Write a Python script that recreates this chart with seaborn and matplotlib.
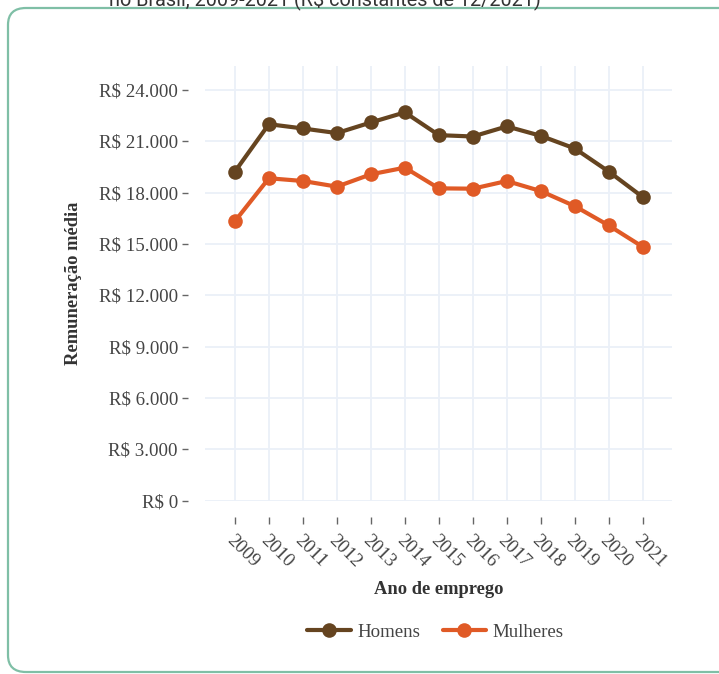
import matplotlib
matplotlib.use("Agg")
import matplotlib.pyplot as plt
from matplotlib.patches import FancyBboxPatch
from matplotlib.ticker import FuncFormatter
import pandas as pd
import seaborn as sns

# Remuneração média por sexo, 2009-2021 (R$ constantes de 12/2021)
anos = [2009, 2010, 2011, 2012, 2013, 2014, 2015, 2016, 2017, 2018, 2019, 2020, 2021]
homens = [19230, 22000, 21750, 21480, 22100, 22690, 21360, 21280, 21870, 21320, 20580, 19230, 17740]
mulheres = [16330, 18840, 18680, 18350, 19070, 19460, 18250, 18230, 18680, 18090, 17210, 16080, 14830]
series = ["Homens", "Mulheres"]
cores = ["#654420", "#e05a26"]
y_ticks = [0, 3000, 6000, 9000, 12000, 15000, 18000, 21000, 24000]

df = pd.DataFrame({
    "Ano": anos * 2,
    "Valor": homens + mulheres,
    "Sexo": [series[0]] * len(anos) + [series[1]] * len(anos),
})

sns.set_theme(style="white")
plt.rcParams["font.family"] = ["Liberation Serif", "DejaVu Serif"]

fig = plt.figure(figsize=(7.19, 6.74), dpi=100)
ax = fig.add_axes([205 / 719, 1 - 501 / 674, 467 / 719, 435 / 674])

sns.lineplot(
    data=df, x="Ano", y="Valor", hue="Sexo", hue_order=series,
    palette=cores, marker="o", markersize=10.5, markeredgewidth=0,
    linewidth=3, ax=ax, legend=False,
)

ax.set_xlim(2008.12, 2021.86)
ax.set_ylim(-20, 25400)
ax.set_xticks(anos)
ax.set_yticks(y_ticks)
ax.yaxis.set_major_formatter(
    FuncFormatter(lambda v, _: "R$ " + f"{int(v):,}".replace(",", "."))
)
ax.grid(True, color="#ebf0f8", linewidth=1.3)
ax.set_axisbelow(True)

for s in ax.spines.values():
    s.set_visible(False)
ax.spines["left"].set_position(("outward", 12))
ax.spines["bottom"].set_position(("outward", 11.5))

ax.tick_params(axis="y", left=True, length=4.5, width=1, color="#666666",
               labelsize=13.6, labelcolor="#444444", pad=3)
ax.tick_params(axis="x", bottom=True, length=4.7, width=1, color="#666666",
               labelsize=13.6, labelcolor="#444444", pad=6)
for lbl in ax.get_xticklabels():
    lbl.set_rotation(-45)
    lbl.set_ha("left")
    lbl.set_va("top")
    lbl.set_rotation_mode("anchor")

ax.set_xlabel("Ano de emprego", fontsize=13.3, fontweight="bold", color="#333333")
ax.set_ylabel("Remuneração média", fontsize=13.3, fontweight="bold", color="#333333")
ax.xaxis.label.set_va("center")
ax.yaxis.label.set_va("center")
ax.xaxis.set_label_coords(0.5, (501 - 590) / 435)
ax.yaxis.set_label_coords((73 - 205) / 467, 0.5)

handles = [
    plt.Line2D([], [], color=c, linewidth=3, marker="o", markersize=10.5,
               markeredgewidth=0)
    for c in cores
]
ax.legend(
    handles, series, loc="center",
    bbox_to_anchor=((435.5 - 205) / 467, (501 - 632) / 435),
    ncol=2, frameon=False, fontsize=13.6, handlelength=2.3, columnspacing=1.2,
    handletextpad=0.35, labelcolor="#444444",
)

# Cartão com borda arredondada
card = FancyBboxPatch(
    (8 / 719, 2 / 674), 760 / 719, 664 / 674,
    boxstyle="round,pad=0,rounding_size=0.025",
    transform=fig.transFigure, facecolor="none",
    edgecolor="#7fbfa6", linewidth=1.6, clip_on=False,
)
fig.patches.append(card)

fig.text(325 / 719, 1 - 5 / 674, "no Brasil, 2009-2021 (R$ constantes de 12/2021)",
         ha="center", va="baseline", fontsize=14.3, color="#333333",
         family=["Roboto", "DejaVu Sans"])

fig.savefig("out.png", dpi=100)
